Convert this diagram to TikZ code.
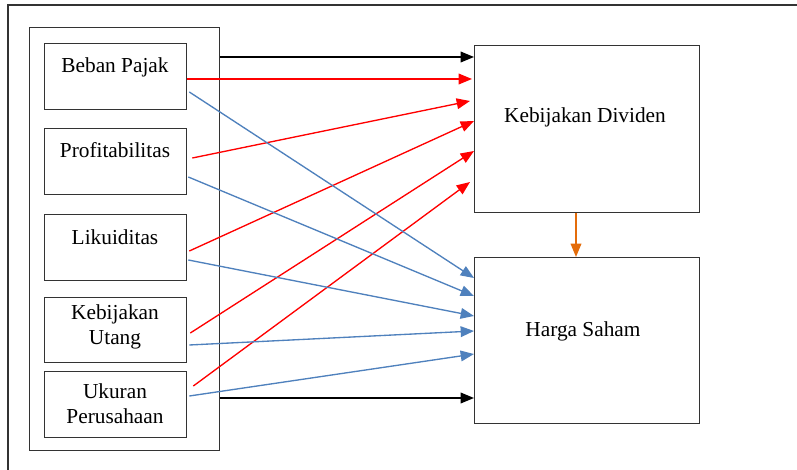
\documentclass[tikz,border=0pt]{standalone}
\usepackage{fontspec}
\setmainfont{Liberation Serif}
\usetikzlibrary{arrows.meta,calc}
\definecolor{framegray}{HTML}{333333}
\definecolor{linkred}{HTML}{FF0000}
\definecolor{linkblue}{HTML}{4F81BD}
\definecolor{linkorange}{HTML}{E46C0A}
\tikzset{
  box/.style={draw=framegray, line width=1pt, inner sep=0pt, anchor=north west},
  lbl/.style={inner sep=0pt, align=center, font=\rmfamily\fontsize{16}{18.75}\selectfont},
  tip/.style={-{Triangle[length=10pt,width=8pt]}},
  redarrow/.style={tip, draw=linkred, fill=linkred, line width=1pt},
  bluearrow/.style={tip, draw=linkblue, fill=linkblue, line width=1pt},
  blackarrow/.style={tip, draw=black, fill=black, line width=1pt},
  orangearrow/.style={tip, draw=linkorange, fill=linkorange, line width=1pt},
}
\begin{document}
\begin{tikzpicture}[x=0.75pt, y=-0.75pt]
\useasboundingbox (0,0) rectangle (797,470);
\fill[white] (0,0) rectangle (797,470);
% outer frame
\draw[framegray, line width=1pt] (8,480) -- (8,5) -- (810,5);
% group box
\node[box, minimum width=142.5pt, minimum height=317.25pt] (gb) at (29,27) {};
% left boxes
\node[box, minimum width=106.5pt, minimum height=49.5pt] (bp) at (44,43) {};
\node[box, minimum width=106.5pt, minimum height=49.5pt] (pr) at (44,128) {};
\node[box, minimum width=106.5pt, minimum height=49.5pt] (lk) at (44,214) {};
\node[box, minimum width=106.5pt, minimum height=48.75pt] (ku) at (44,297) {};
\node[box, minimum width=106.5pt, minimum height=49.5pt] (up) at (44,371) {};
\node[lbl] (bpt) at (115,67) {Beban Pajak};
\node[lbl] (prt) at (115,150) {Profitabilitas};
\node[lbl] (lkt) at (115,237) {Likuiditas};
\node[lbl] (kut) at (115,327) {Kebijakan\\Utang};
\node[lbl] (upt) at (115,404) {Ukuran\\Perusahaan};
% right boxes
\node[box, minimum width=168.75pt, minimum height=125.25pt] (kd) at (474,45) {};
\node[box, minimum width=168.75pt, minimum height=124.5pt] (hs) at (474,257) {};
\node[lbl] (kdt) at (585,117) {Kebijakan Dividen};
\node[lbl] (hst) at (583,331) {Harga Saham};
% black arrows
\draw[blackarrow] ($(gb.north east)+(0,30)$) -- ($(kd.north west)+(0,12)$);
\draw[blackarrow] ($(gb.north east)+(0,371)$) -- ($(hs.north west)+(0,141)$);
% red arrows
\draw[redarrow] ($(bp.north east)+(0,36)$) -- ($(kd.north west)+(-2,34)$);
\draw[redarrow] ($(pr.north east)+(5,30)$) -- ($(kd.north west)+(-4,56)$);
\draw[redarrow] ($(lk.north east)+(2,37)$) -- ($(kd.north west)+(0,76)$);
\draw[redarrow] ($(ku.north east)+(3,36)$) -- ($(kd.north west)+(0,106)$);
\draw[redarrow] ($(up.north east)+(6,15)$) -- ($(kd.north west)+(-4,137)$);
% blue arrows
\draw[bluearrow] ($(bp.north east)+(2,49)$) -- ($(hs.north west)+(0,21)$);
\draw[bluearrow] ($(pr.north east)+(1,49)$) -- ($(hs.north west)+(0,39)$);
\draw[bluearrow] ($(lk.north east)+(1,46)$) -- ($(hs.north west)+(0,59)$);
\draw[bluearrow] ($(ku.north east)+(2,48)$) -- ($(hs.north west)+(0,74)$);
\draw[bluearrow] ($(up.north east)+(2,25)$) -- ($(hs.north west)+(0,97)$);
% orange arrow
\draw[orangearrow] ($(kd.south west)+(102,0)$) -- ($(hs.north west)+(102,0)$);
\end{tikzpicture}
\end{document}
